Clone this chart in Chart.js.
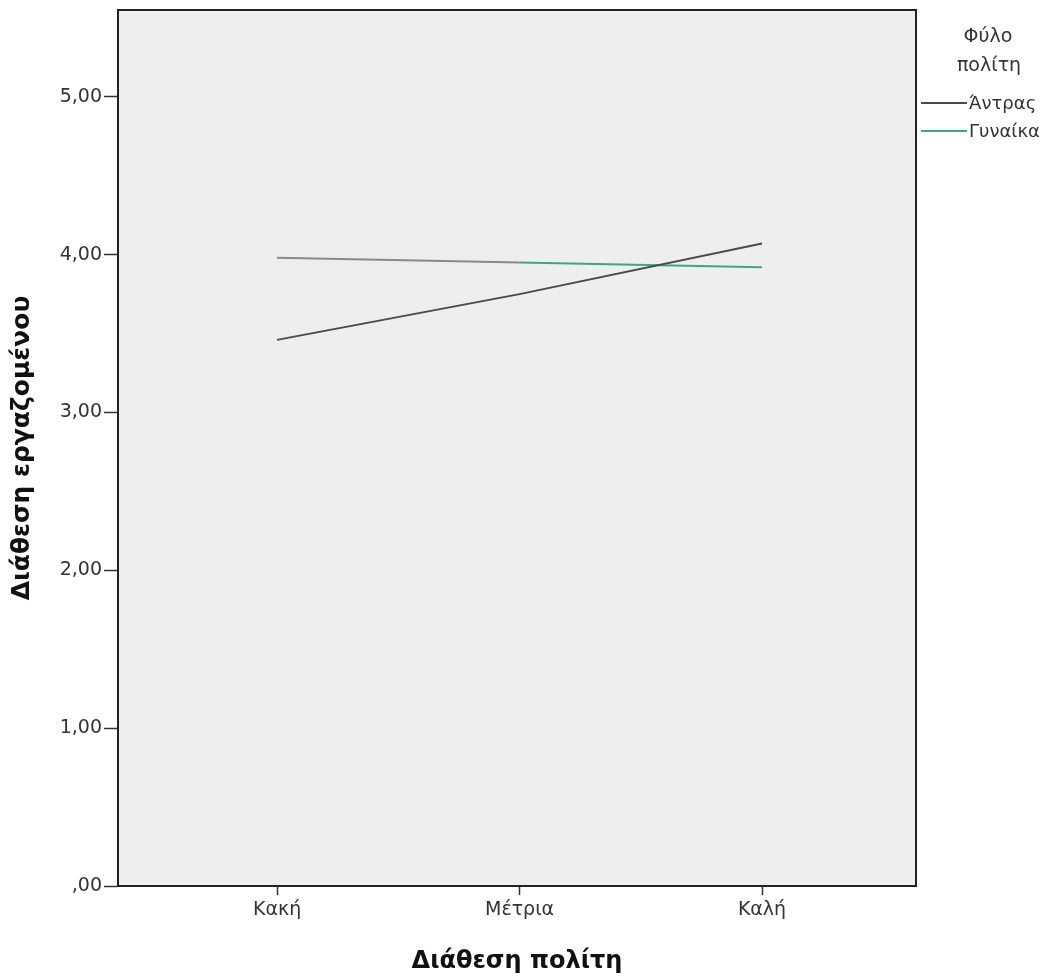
<!DOCTYPE html>
<html lang="el">
<head>
    <meta charset="UTF-8">
    <title>Διάθεση εργαζομένου / Διάθεση πολίτη</title>
    <script src="https://cdn.jsdelivr.net/npm/chart.js"></script>
    <style>
        html, body { margin: 0; padding: 0; background: #ffffff; }
        #wrap { width: 1047px; height: 980px; }
    </style>
</head>
<body>
    <div id="wrap">
        <canvas id="meansChart"></canvas>
    </div>
    <script>
        // δεδομένα
        const categories = ['Κακή', 'Μέτρια', 'Καλή'];
        const yTickLabels = [',00', '1,00', '2,00', '3,00', '4,00', '5,00'];
        const seriesNames = ['Άντρας', 'Γυναίκα'];
        const andrasValues = [3.46, 3.75, 4.07];
        const gynaikaValues = [3.98, 3.95, 3.92];

        const colAndras = '#4a4a4a';
        const colGynaika = '#3ea586';
        const fontFam = "'DejaVu Sans', 'Liberation Sans', Arial, sans-serif";

        const toPoints = vals => vals.map((v, i) => ({ x: i, y: v }));

        // φόντο και πλαίσιο της περιοχής του γραφήματος
        const plotFrame = {
            id: 'plotFrame',
            beforeDraw(chart) {
                const a = chart.chartArea, c = chart.ctx;
                c.save();
                c.fillStyle = '#eeeeee';
                c.fillRect(a.left, a.top, a.right - a.left, a.bottom - a.top);
                c.restore();
            },
            afterDraw(chart) {
                const a = chart.chartArea, c = chart.ctx;
                c.save();
                c.strokeStyle = '#222222';
                c.lineWidth = 2;
                c.strokeRect(a.left, a.top, a.right - a.left, a.bottom - a.top);
                c.restore();
            }
        };

        // υπόμνημα δεξιά
        const sideLegend = {
            id: 'sideLegend',
            afterDraw(chart) {
                const c = chart.ctx;
                c.save();
                c.fillStyle = '#333333';
                c.font = '19px ' + fontFam;
                c.textAlign = 'center';
                c.textBaseline = 'middle';
                c.fillText('Φύλο', 988, 37);
                c.fillText('πολίτη', 989, 66);
                c.textAlign = 'left';
                c.font = '18px ' + fontFam;
                chart.data.datasets.forEach((ds, i) => {
                    const y = 103 + i * 28;
                    c.strokeStyle = ds.borderColor;
                    c.lineWidth = 2;
                    c.beginPath();
                    c.moveTo(921, y);
                    c.lineTo(967, y);
                    c.stroke();
                    c.fillStyle = '#333333';
                    c.fillText(ds.label, 969, y + 1);
                });
                c.restore();
            }
        };

        const ctx = document.getElementById('meansChart').getContext('2d');
        const meansChart = new Chart(ctx, {
            type: 'line',
            data: {
                datasets: [{
                    label: seriesNames[0],
                    data: toPoints(andrasValues),
                    borderColor: colAndras,
                    borderWidth: 2,
                    pointRadius: 0,
                    tension: 0
                }, {
                    label: seriesNames[1],
                    data: toPoints(gynaikaValues),
                    borderColor: colGynaika,
                    borderWidth: 2,
                    pointRadius: 0,
                    tension: 0,
                    segment: {
                        borderColor: s => s.p0DataIndex === 0 ? '#8a8a8a' : colGynaika
                    }
                }]
            },
            options: {
                responsive: true,
                maintainAspectRatio: false,
                animation: false,
                layout: { padding: { left: 0, top: 10, right: 131, bottom: 0 } },
                plugins: {
                    legend: { display: false },
                    tooltip: { enabled: false }
                },
                scales: {
                    x: {
                        type: 'linear',
                        min: -0.656,
                        max: 2.635,
                        afterBuildTicks: s => { s.ticks = categories.map((c, i) => ({ value: i })); },
                        afterFit: s => { s.height = 94; s.paddingLeft = 0; s.paddingRight = 0; },
                        grid: { display: true, drawOnChartArea: false, drawTicks: true, tickLength: 9, tickColor: '#333333', tickWidth: 1.5 },
                        border: { display: true, color: '#222222', width: 2 },
                        ticks: {
                            callback: v => categories[v],
                            color: '#333333',
                            font: { family: fontFam, size: 19 },
                            padding: 4,
                            maxRotation: 0
                        },
                        title: {
                            display: true,
                            text: 'Διάθεση πολίτη',
                            color: '#111111',
                            font: { family: fontFam, size: 24, weight: 'bold' },
                            padding: { top: 4, bottom: 4 }
                        }
                    },
                    y: {
                        min: 0,
                        max: 5.55,
                        afterBuildTicks: s => { s.ticks = yTickLabels.map((t, i) => ({ value: i })); },
                        afterFit: s => { s.width = 118; s.paddingTop = 0; s.paddingBottom = 0; },
                        grid: { display: true, drawOnChartArea: false, drawTicks: true, tickLength: 14, tickColor: '#333333', tickWidth: 1.5 },
                        border: { display: true, color: '#222222', width: 2 },
                        ticks: {
                            callback: v => yTickLabels[v],
                            color: '#333333',
                            font: { family: fontFam, size: 19 },
                            padding: 2
                        },
                        title: {
                            display: true,
                            text: 'Διάθεση εργαζομένου',
                            color: '#111111',
                            font: { family: fontFam, size: 25, weight: 'bold' },
                            padding: { top: 7, bottom: 7 }
                        }
                    }
                }
            },
            plugins: [plotFrame, sideLegend]
        });
    </script>
</body>
</html>
